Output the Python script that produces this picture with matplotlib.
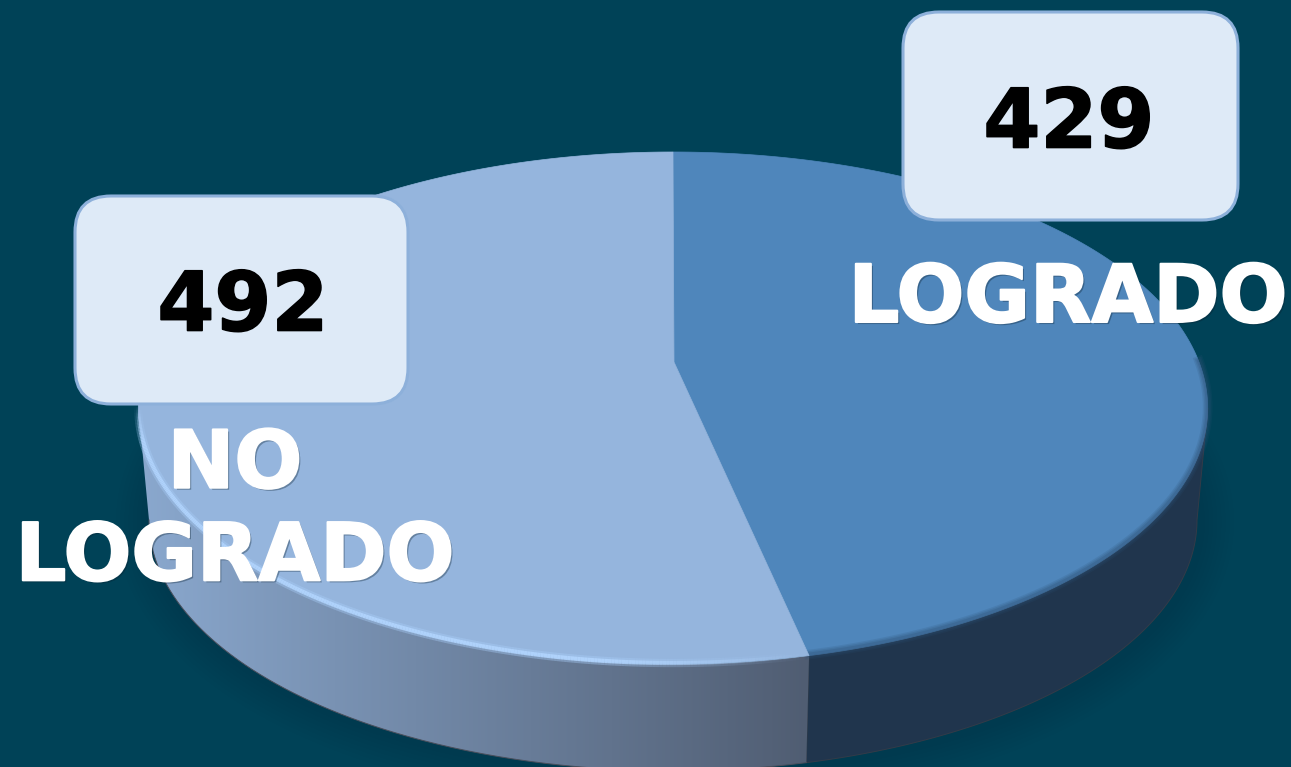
import numpy as np
import matplotlib
matplotlib.use('Agg')
import matplotlib.pyplot as plt
import matplotlib.patheffects as pe
from matplotlib.patches import Polygon, FancyBboxPatch

categorias = ['LOGRADO', 'NO\nLOGRADO']
valores = [429, 492]

fondo = '#004257'
c_logrado = '#4f86bb'
c_no = '#95b5dd'
c_lado_osc = np.array([0x20, 0x35, 0x4d]) / 255
c_lado_izq = np.array([0x8a, 0xa8, 0xce]) / 255
c_lado_der = np.array([0x50, 0x5d, 0x72]) / 255

# perspectiva del disco (pixeles de la imagen)
cx, cy = 673, 362
k, b, c = 526, -182.7, 0.1797
esc = 0.98
prof = 112


def borde(t):
    x = cx + k*np.sin(t)/(1 + c*np.cos(t))
    y = (cy + b*np.cos(t))/(1 + c*np.cos(t))
    return x, y


def borde_inf(t):
    x, y = borde(t)
    return cx + (x - cx)*esc, 408 + (y - 408)*esc + prof


fig = plt.figure(figsize=(12.91, 7.67), dpi=100, facecolor=fondo)
ax = fig.add_axes([0, 0, 1, 1])
ax.set_xlim(0, 1291)
ax.set_ylim(767, 0)
ax.axis('off')

corte = 2*np.pi*valores[0]/sum(valores)
t_ext = np.arccos(-c)
t_der = np.linspace(corte, t_ext, 120) if corte > t_ext else np.linspace(t_ext, corte, 120)
t_izq = np.linspace(corte, 2*np.pi - t_ext, 300)

# sombra suave
t_all = np.linspace(0, 2*np.pi, 500)
xs, ys = borde_inf(t_all)
for w in np.arange(50, 4, -6):
    ax.plot(xs + 2, ys + 2, color='#003246', lw=w, alpha=0.03, zorder=1)

# lado
x1, y1 = borde(t_der)
xb, yb = borde_inf(t_der)
pts = np.r_[np.c_[x1, y1], np.c_[xb[::-1], yb[::-1]]]
ax.add_patch(Polygon(pts, closed=True, fc=c_lado_osc, ec='#333b48', lw=0.7, zorder=2))

x2, y2 = borde(t_izq)
xb, yb = borde_inf(t_izq)
pts = np.r_[np.c_[x2, y2], np.c_[xb[::-1], yb[::-1]]]
ax.plot(xb, yb, color='#4a4f5c', lw=0.7, zorder=3)
frac = np.linspace(0, 1, 256)[:, None]
grad = (c_lado_izq[None, :]*(1 - frac) + c_lado_der[None, :]*frac)[None, :, :]
im = ax.imshow(grad, extent=[x2.min(), x2.max(), 767 + 20, 300], aspect='auto', zorder=2.5)
im.set_clip_path(Polygon(pts, closed=True, transform=ax.transData))
ax.set_xlim(0, 1291)
ax.set_ylim(767, 0)

# cara superior
t1 = np.linspace(0, corte, 300)
t2 = np.linspace(corte, 2*np.pi, 300)
for t, col, z in [(t1, c_logrado, 5), (t2, c_no, 6)]:
    x, y = borde(t)
    ax.add_patch(Polygon(np.r_[[[cx + 1, cy]], np.c_[x, y]], closed=True, fc=col, ec=col, lw=0.5, zorder=z))

# borde difuso abajo a la derecha y brillo a la izquierda
x3, y3 = borde(np.linspace(np.pi/2, corte, 200))
for w, a in [(7, 0.16), (5, 0.2), (3, 0.25)]:
    ax.plot(x3, y3 - 1, color='#2c5075', lw=w, alpha=a, zorder=5.5)
x4, y4 = borde(np.linspace(corte, 2*np.pi - t_ext, 300))
for i in range(len(x4) - 1):
    f = i/(len(x4) - 1)
    a = min(1.0, f*5, (1 - f)*12)
    ax.plot(x4[i:i+2], y4[i:i+2] - 1, color='#a8cdf8', lw=6, alpha=0.4*a, zorder=6.5, solid_capstyle='butt')
    ax.plot(x4[i:i+2], y4[i:i+2] - 1, color='#b3d6ff', lw=3, alpha=0.85*a, zorder=6.6, solid_capstyle='butt')

# cajas con los valores
cajas = [(903, 12, 335, 208), (75, 196, 333, 208)]
pos_val = [(1069, 125), (243, 308)]
negrita = [pe.Stroke(linewidth=1.2, foreground='black'), pe.Normal()]
for (x0, y0, w, h), (xt, yt), v in zip(cajas, pos_val, valores):
    ax.add_patch(FancyBboxPatch((x0, y0), w, h, boxstyle='round,pad=0,rounding_size=36',
                                fc='#deeaf7', ec='#8db0da', lw=2.2, zorder=8))
    ax.text(xt, yt, str(v), fontsize=59, fontweight='bold', color='black',
            ha='center', va='center', family='DejaVu Sans', zorder=9, path_effects=negrita)

# etiquetas
sombra = [pe.SimplePatchShadow(offset=(1.5, -1.5), shadow_rgbFace='#0a2030', alpha=0.35),
          pe.Stroke(linewidth=1.5, foreground='white'), pe.Normal()]
pos_cat = [(1068, 300), (235, 512)]
for cat, (xt, yt) in zip(categorias, pos_cat):
    ax.text(xt, yt, cat, fontsize=57.5, fontweight='bold', color='white', ha='center', va='center',
            linespacing=1.24, family='DejaVu Sans', zorder=10, path_effects=sombra)

plt.savefig('out.png', dpi=100, facecolor=fondo)
